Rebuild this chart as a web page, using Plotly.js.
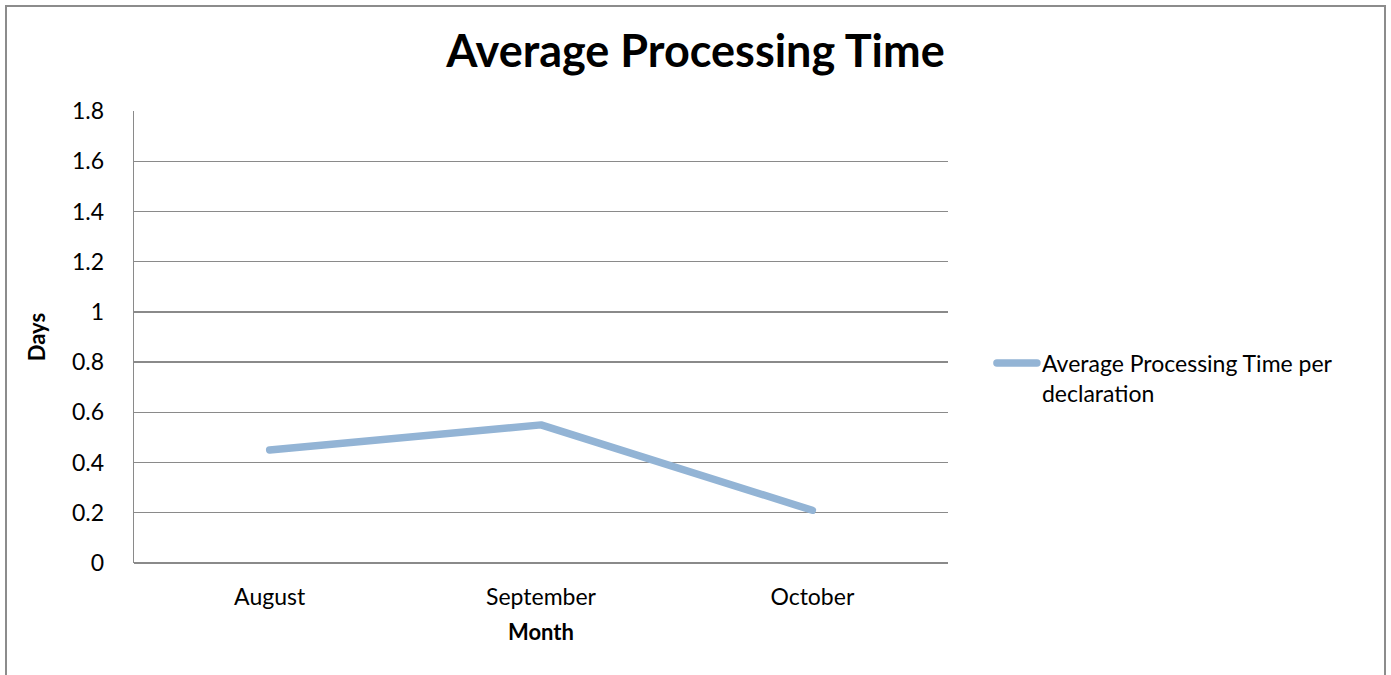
<!DOCTYPE html>
<html>
<head>
<meta charset="utf-8">
<script src="https://cdn.plot.ly/plotly-3.0.1.min.js"></script>
<style>
html,body{margin:0;padding:0;background:#fff;overflow:hidden;}
#chart{width:1391px;height:675px;}
#frame{position:absolute;left:5px;top:5px;width:1377px;height:720px;border:2px solid #8c8c8c;pointer-events:none;}
#chart .scatterlayer path.js-line, #chart .legend path.js-line{stroke-linecap:round;stroke-linejoin:round;}
</style>
</head>
<body>
<div id="chart"></div>
<div id="frame"></div>
<script>
const months = ["August", "September", "October"];
const avgDays = [0.45, 0.55, 0.21];
const seriesName = "Average Processing Time per<br>declaration";
const yTicks = [0, 0.2, 0.4, 0.6, 0.8, 1, 1.2, 1.4, 1.6, 1.8];

const fontFam = "Lato, 'Open Sans', sans-serif";

const trace = {
  x: months,
  y: avgDays,
  type: "scatter",
  mode: "lines",
  name: seriesName,
  line: {color: "#93b4d5", width: 7.5},
  showlegend: true
};

const layout = {
  width: 1391,
  height: 675,
  paper_bgcolor: "#ffffff",
  plot_bgcolor: "#ffffff",
  margin: {l: 134, r: 443, t: 111, b: 112},
  font: {family: fontFam, size: 23, color: "#000"},
  title: {
    text: "<b>Average Processing Time</b>",
    font: {family: fontFam, size: 45, color: "#000"},
    x: 0.5, xanchor: "center", xref: "container",
    y: 1 - 51 / 675, yanchor: "middle", yref: "container"
  },
  xaxis: {
    type: "category",
    range: [-0.5, 2.5],
    showgrid: false,
    showline: false,
    zeroline: false,
    ticks: "",
    tickfont: {family: fontFam, size: 23},
    ticklabelstandoff: 18,
    title: {text: "<b>Month</b>", font: {family: fontFam, size: 22}, standoff: 15}
  },
  yaxis: {
    range: [0, 1.8],
    tickvals: yTicks,
    ticktext: yTicks.map(String),
    showgrid: true,
    gridcolor: "#8a8a8a",
    gridwidth: 1.3,
    showline: true,
    linecolor: "#8a8a8a",
    linewidth: 1.3,
    zeroline: true,
    zerolinecolor: "#8a8a8a",
    zerolinewidth: 1.3,
    ticks: "",
    tickfont: {family: fontFam, size: 23},
    ticklabelstandoff: 24,
    title: {text: "<b>Days</b>", font: {family: fontFam, size: 22}, standoff: 20}
  },
  legend: {
    x: 1.054, xanchor: "left",
    y: 0.49, yanchor: "top",
    valign: "top",
    font: {family: fontFam, size: 23},
    bgcolor: "rgba(0,0,0,0)",
    itemwidth: 40,
    tracegroupgap: 0
  },
  showlegend: true
};

Plotly.newPlot("chart", [trace], layout, {displayModeBar: false, staticPlot: true});
</script>
</body>
</html>
